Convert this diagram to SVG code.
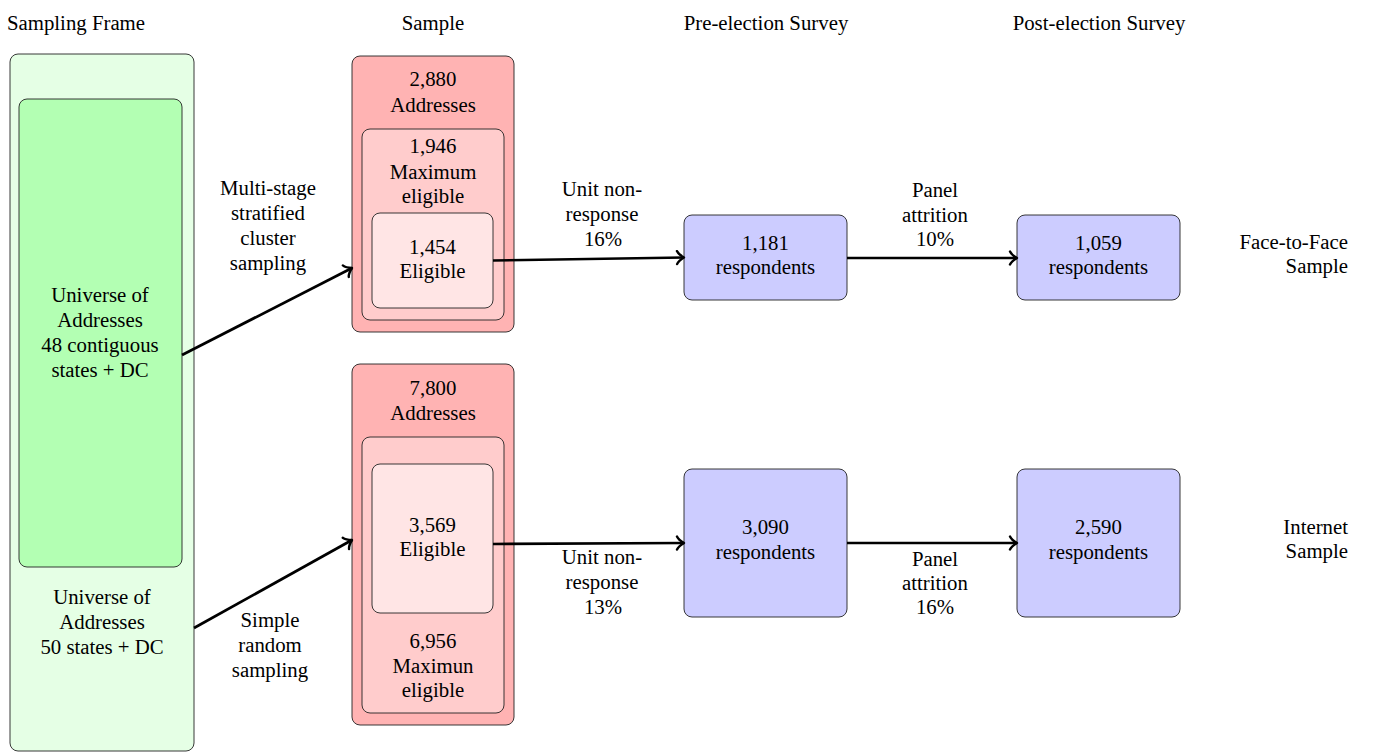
<svg xmlns="http://www.w3.org/2000/svg" width="1378" height="752" viewBox="0 0 1378 752" font-family="'Liberation Serif', 'Times New Roman', 'DejaVu Serif', serif" font-size="20.8">
<style>
text{font-family:'Liberation Serif','Times New Roman','DejaVu Serif',serif;font-size:20.8px;fill:#000;text-anchor:middle}
.r{text-anchor:end}
.box{stroke:#222;stroke-width:0.9}
.g1{fill:#e5ffe5}.g2{fill:#b3ffb3}
.p1{fill:#ffb3b3}.p2{fill:#ffcccc}.p3{fill:#ffe5e5}
.b{fill:#ccccff}
.arr{stroke:#000;stroke-width:2.7;fill:none;marker-end:url(#tip)}
</style>
<defs>
<marker id="tip" markerUnits="userSpaceOnUse" markerWidth="16" markerHeight="16" viewBox="-10 -8 12 16" refX="0" refY="0" orient="auto">
<path d="M-7,-6.5 C-5.5,-3.2 -1.6,-0.9 0,0 C-1.6,0.9 -5.5,3.2 -7,6.5" fill="none" stroke="#000" stroke-width="2.4" stroke-linecap="round" stroke-linejoin="round"/>
</marker>
</defs>
<g id="titles">
<text x="76" y="30">Sampling Frame</text>
<text x="433" y="30">Sample</text>
<text x="766" y="30">Pre-election Survey</text>
<text x="1099" y="30">Post-election Survey</text>
</g>
<g id="frame">
<rect class="box g1" x="10" y="54" width="184" height="697" rx="8"/>
<text x="102" y="604">Universe of</text>
<text x="102" y="629">Addresses</text>
<text x="102" y="654">50 states + DC</text>
</g>
<g id="frame48">
<rect class="box g2" x="19" y="99" width="163" height="468" rx="8"/>
<text x="100" y="302">Universe of</text>
<text x="100" y="327">Addresses</text>
<text x="100" y="352">48 contiguous</text>
<text x="100" y="377">states + DC</text>
</g>
<g id="sample1">
<rect class="box p1" x="352" y="56" width="162" height="276" rx="8"/>
<text x="433" y="86">2,880</text>
<text x="433" y="112">Addresses</text>
</g>
<g id="max1">
<rect class="box p2" x="362" y="129" width="142" height="191" rx="8"/>
<text x="433" y="153">1,946</text>
<text x="433" y="179">Maximum</text>
<text x="433" y="203">eligible</text>
</g>
<g id="elig1">
<rect class="box p3" x="372" y="213" width="121" height="95" rx="8"/>
<text x="432.5" y="254">1,454</text>
<text x="432.5" y="278">Eligible</text>
</g>
<g id="sample2">
<rect class="box p1" x="352" y="364" width="162" height="361" rx="8"/>
<text x="433" y="395">7,800</text>
<text x="433" y="420">Addresses</text>
</g>
<g id="max2">
<rect class="box p2" x="362" y="437" width="142" height="276" rx="8"/>
<text x="433" y="648">6,956</text>
<text x="433" y="673">Maximun</text>
<text x="433" y="697">eligible</text>
</g>
<g id="elig2">
<rect class="box p3" x="372" y="464" width="121" height="149" rx="8"/>
<text x="432.5" y="532">3,569</text>
<text x="432.5" y="556">Eligible</text>
</g>
<g id="pre1">
<rect class="box b" x="684" y="215" width="163" height="85" rx="8"/>
<text x="765.5" y="250">1,181</text>
<text x="765.5" y="274">respondents</text>
</g>
<g id="post1">
<rect class="box b" x="1017" y="215" width="163" height="85" rx="8"/>
<text x="1098.5" y="250">1,059</text>
<text x="1098.5" y="274">respondents</text>
</g>
<g id="pre2">
<rect class="box b" x="684" y="469" width="163" height="148" rx="8"/>
<text x="765.5" y="534">3,090</text>
<text x="765.5" y="559">respondents</text>
</g>
<g id="post2">
<rect class="box b" x="1017" y="469" width="163" height="148" rx="8"/>
<text x="1098.5" y="534">2,590</text>
<text x="1098.5" y="559">respondents</text>
</g>
<g id="rowlabels">
<text class="r" x="1348" y="249">Face-to-Face</text>
<text class="r" x="1348" y="273">Sample</text>
<text class="r" x="1348" y="534">Internet</text>
<text class="r" x="1348" y="558">Sample</text>
</g>
<g id="connectors">
<line class="arr" x1="182" y1="355" x2="352" y2="268"/>
<line class="arr" x1="194" y1="628" x2="352" y2="540"/>
<line class="arr" x1="493" y1="260.5" x2="684" y2="257.5"/>
<line class="arr" x1="493" y1="544" x2="684" y2="543"/>
<line class="arr" x1="847" y1="258" x2="1017" y2="258"/>
<line class="arr" x1="847" y1="543" x2="1017" y2="543"/>
</g>
<g id="edge-labels">
<text x="268" y="195">Multi-stage</text>
<text x="268" y="220">stratified</text>
<text x="268" y="245">cluster</text>
<text x="268" y="270">sampling</text>
<text x="270" y="627">Simple</text>
<text x="270" y="652">random</text>
<text x="270" y="677">sampling</text>
<text x="602" y="196">Unit non-</text>
<text x="602" y="221">response</text>
<text x="603" y="246">16%</text>
<text x="602" y="564">Unit non-</text>
<text x="602" y="589">response</text>
<text x="603" y="614">13%</text>
<text x="935" y="197">Panel</text>
<text x="935" y="222">attrition</text>
<text x="935" y="246">10%</text>
<text x="935" y="566">Panel</text>
<text x="935" y="590">attrition</text>
<text x="935" y="614">16%</text>
</g>
</svg>
